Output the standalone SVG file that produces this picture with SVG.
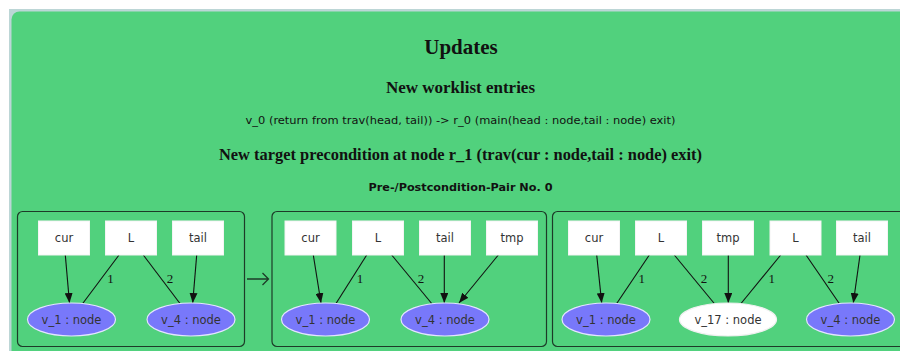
<svg xmlns="http://www.w3.org/2000/svg" width="900" height="351" viewBox="0 0 900 351">
  <style>
    .title { font-family: "Liberation Serif", "Times New Roman", serif; font-weight: bold; fill: #111; text-anchor: middle; }
    .info { font-family: "DejaVu Sans", sans-serif; font-size: 11px; fill: #111; text-anchor: middle; }
    .pair { font-family: "DejaVu Sans", sans-serif; font-weight: bold; font-size: 11px; fill: #111; text-anchor: middle; }
    .panel { fill: #51d17d; stroke: #1d3b28; stroke-width: 1.2; }
    .box { fill: #ffffff; stroke: #f4f4f4; stroke-width: 1; }
    .obj { fill: #7878fa; stroke: #e4e4ff; stroke-width: 1.2; }
    .fresh { fill: #ffffff; stroke: #f0f0f0; stroke-width: 1.2; }
    .lbl { font-family: "DejaVu Sans", sans-serif; font-size: 11.5px; fill: #333; text-anchor: middle; }
    .elbl { font-family: "Liberation Serif", "Times New Roman", serif; font-size: 13px; fill: #111; text-anchor: middle; }
    .edge { stroke: #111; stroke-width: 1.1; fill: none; }
    .ptr { marker-end: url(#head); }
    .step { stroke: #1d3b28; stroke-width: 1.3; fill: none; }
  </style>
  <defs>
    <marker id="head" markerUnits="userSpaceOnUse" markerWidth="10" markerHeight="8" refX="10" refY="4" orient="auto">
      <path d="M0,0 L10,4 L0,8 z" fill="#111"/>
    </marker>
  </defs>

  <!-- frame -->
  <rect x="0" y="0" width="900" height="351" fill="#ffffff"/>
  <rect x="9" y="9" width="895" height="346" fill="#bcd6d6"/>
  <rect x="11.5" y="11.5" width="900" height="350" rx="8" fill="#51d17d"/>

  <!-- headings -->
  <text class="title" x="461" y="54" font-size="21">Updates</text>
  <text class="title" x="460.5" y="93" font-size="17" textLength="149" lengthAdjust="spacingAndGlyphs">New worklist entries</text>
  <text class="info" x="460.5" y="123.5" textLength="430" lengthAdjust="spacingAndGlyphs">v_0 (return from trav(head, tail)) -&gt; r_0 (main(head : node,tail : node) exit)</text>
  <text class="title" x="460.5" y="160" font-size="17" textLength="483" lengthAdjust="spacingAndGlyphs">New target precondition at node r_1 (trav(cur : node,tail : node) exit)</text>
  <text class="pair" x="460.5" y="191" textLength="184" lengthAdjust="spacingAndGlyphs">Pre-/Postcondition-Pair No. 0</text>

  <!-- panel outlines -->
  <g id="panel-pre">
    <rect class="panel" x="17.5" y="211.5" width="227" height="135" rx="5"/>
  </g>
  <g id="transition">
    <path class="step" d="M247 279 H268.5 M262.5 273 L268.5 279 L262.5 285"/>
  </g>
  <g id="panel-mid">
    <rect class="panel" x="272" y="211.5" width="274.5" height="135" rx="5"/>
  </g>
  <g id="panel-post">
    <rect class="panel" x="552.5" y="211.5" width="360" height="135" rx="5"/>
  </g>

  <!-- connectors -->
  <g id="connectors">
    <!-- panel 1 -->
    <line class="edge ptr" x1="65.3" y1="255" x2="69.5" y2="303"/>
    <line class="edge" x1="119" y1="255" x2="82.7" y2="303.5"/>
    <line class="edge" x1="143.3" y1="255" x2="180" y2="303.5"/>
    <line class="edge ptr" x1="196.7" y1="255" x2="192.7" y2="303"/>
    <text class="elbl" x="110.5" y="283">1</text>
    <text class="elbl" x="170" y="283">2</text>
    <!-- panel 2 -->
    <line class="edge ptr" x1="313.3" y1="255" x2="321" y2="303"/>
    <line class="edge" x1="366.7" y1="255" x2="336" y2="303.5"/>
    <line class="edge" x1="391.7" y1="255" x2="431.7" y2="303.5"/>
    <line class="edge ptr" x1="444.3" y1="255" x2="444.3" y2="303"/>
    <line class="edge ptr" x1="498.3" y1="255" x2="459" y2="303"/>
    <text class="elbl" x="360" y="283">1</text>
    <text class="elbl" x="421" y="283">2</text>
    <!-- panel 3 -->
    <line class="edge ptr" x1="596.7" y1="255" x2="601.7" y2="303"/>
    <line class="edge" x1="649.3" y1="255" x2="616.7" y2="303.5"/>
    <line class="edge" x1="674.3" y1="255" x2="714.3" y2="303.5"/>
    <line class="edge ptr" x1="728.3" y1="255" x2="728.3" y2="303"/>
    <line class="edge" x1="780.7" y1="255" x2="741" y2="303.5"/>
    <line class="edge" x1="806" y1="255" x2="839.3" y2="303.5"/>
    <line class="edge ptr" x1="860" y1="255" x2="853.3" y2="303"/>
    <text class="elbl" x="641.7" y="283">1</text>
    <text class="elbl" x="704" y="283">2</text>
    <text class="elbl" x="771.7" y="283">1</text>
    <text class="elbl" x="830.7" y="283">2</text>
  </g>

  <!-- panel 1 nodes -->
  <g id="p1-cur"><rect class="box" x="38.5" y="221" width="51" height="34"/><text class="lbl" x="64" y="242">cur</text></g>
  <g id="p1-L"><rect class="box" x="105.5" y="221" width="51" height="34"/><text class="lbl" x="131" y="242">L</text></g>
  <g id="p1-tail"><rect class="box" x="172.5" y="221" width="51" height="34"/><text class="lbl" x="198" y="242">tail</text></g>
  <g id="p1-v1"><ellipse class="obj" cx="71.5" cy="319.5" rx="44" ry="16.5"/><text class="lbl" x="71.5" y="323.5">v_1 : node</text></g>
  <g id="p1-v4"><ellipse class="obj" cx="191" cy="319.5" rx="44" ry="16.5"/><text class="lbl" x="191" y="323.5">v_4 : node</text></g>

  <!-- panel 2 nodes -->
  <g id="p2-cur"><rect class="box" x="285" y="221" width="51" height="34"/><text class="lbl" x="310.5" y="242">cur</text></g>
  <g id="p2-L"><rect class="box" x="352.5" y="221" width="51" height="34"/><text class="lbl" x="378" y="242">L</text></g>
  <g id="p2-tail"><rect class="box" x="419.5" y="221" width="51" height="34"/><text class="lbl" x="445" y="242">tail</text></g>
  <g id="p2-tmp"><rect class="box" x="486.5" y="221" width="51" height="34"/><text class="lbl" x="512" y="242">tmp</text></g>
  <g id="p2-v1"><ellipse class="obj" cx="325.5" cy="319.5" rx="44" ry="16.5"/><text class="lbl" x="325.5" y="323.5">v_1 : node</text></g>
  <g id="p2-v4"><ellipse class="obj" cx="445" cy="319.5" rx="44" ry="16.5"/><text class="lbl" x="445" y="323.5">v_4 : node</text></g>

  <!-- panel 3 nodes -->
  <g id="p3-cur"><rect class="box" x="568.5" y="221" width="51" height="34"/><text class="lbl" x="594" y="242">cur</text></g>
  <g id="p3-L1"><rect class="box" x="635.5" y="221" width="51" height="34"/><text class="lbl" x="661" y="242">L</text></g>
  <g id="p3-tmp"><rect class="box" x="702.5" y="221" width="51" height="34"/><text class="lbl" x="728" y="242">tmp</text></g>
  <g id="p3-L2"><rect class="box" x="770" y="221" width="51" height="34"/><text class="lbl" x="795.5" y="242">L</text></g>
  <g id="p3-tail"><rect class="box" x="836.5" y="221" width="51" height="34"/><text class="lbl" x="862" y="242">tail</text></g>
  <g id="p3-v1"><ellipse class="obj" cx="606" cy="319.5" rx="44" ry="16.5"/><text class="lbl" x="606" y="323.5">v_1 : node</text></g>
  <g id="p3-v17"><ellipse class="fresh" cx="728" cy="319.5" rx="48.5" ry="16.5"/><text class="lbl" x="728" y="323.5">v_17 : node</text></g>
  <g id="p3-v4"><ellipse class="obj" cx="850.5" cy="319.5" rx="44" ry="16.5"/><text class="lbl" x="850.5" y="323.5">v_4 : node</text></g>
</svg>
